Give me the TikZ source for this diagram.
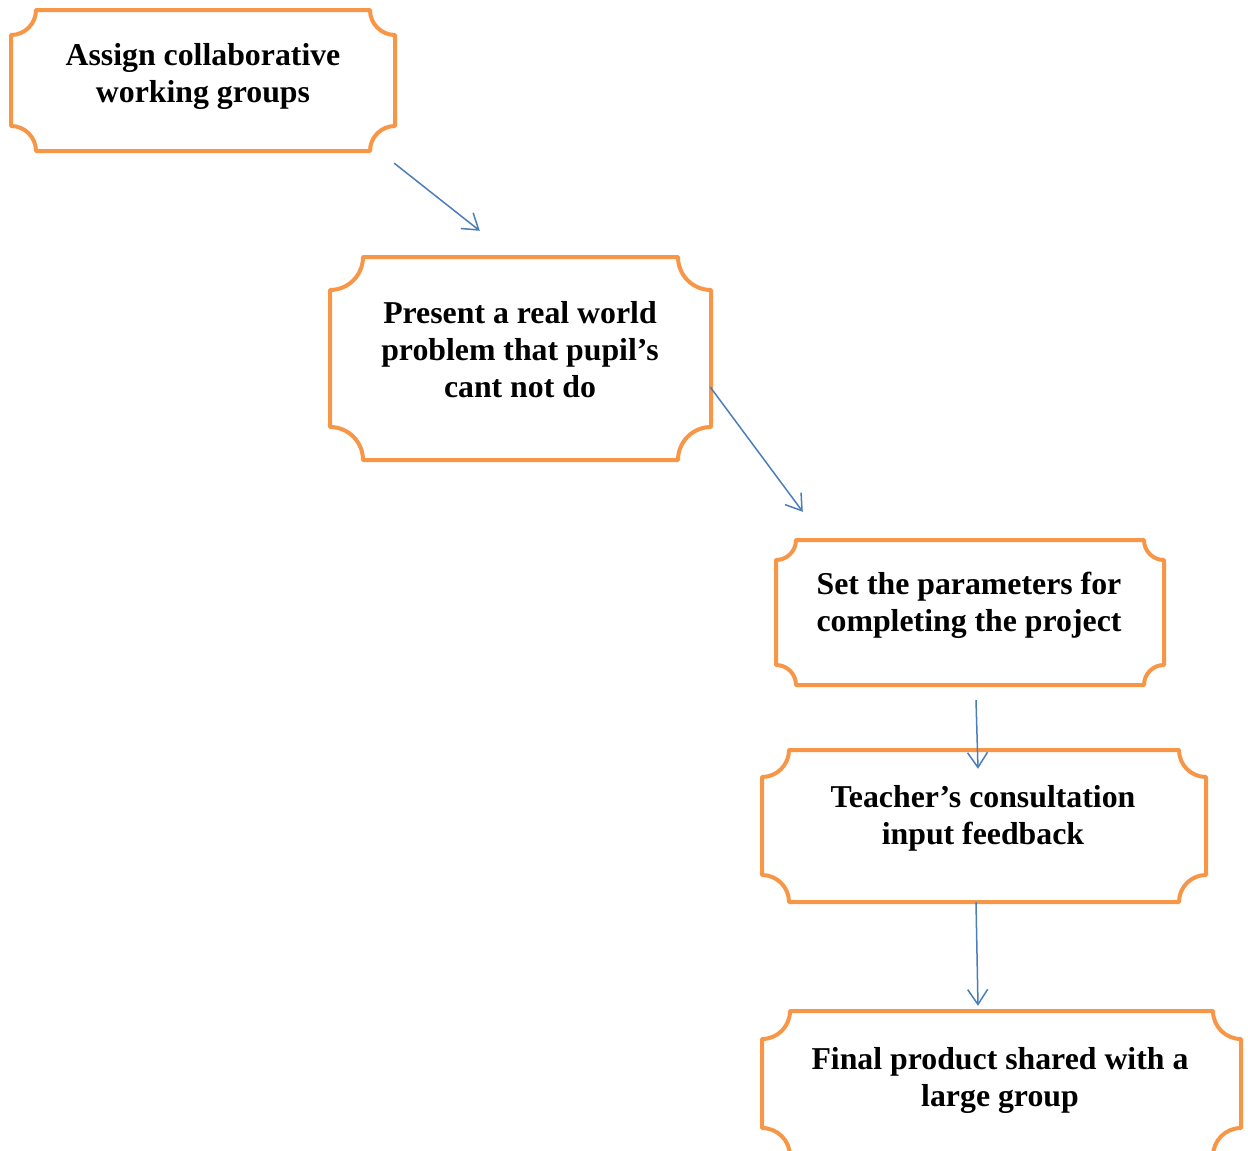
\documentclass[tikz,border=0pt]{standalone}
\usepackage{fontspec}
\setmainfont{Liberation Serif}
\usetikzlibrary{arrows.meta,calc}
\definecolor{plaqueorange}{HTML}{F79646}
\definecolor{linkblue}{HTML}{4A7EBB}
\tikzset{
  plaqueline/.style={draw=plaqueorange,line width=4pt,fill=white,line join=round},
  boxarea/.style={draw=none,inner sep=0pt},
  label/.style={align=center,font=\bfseries\fontsize{31.8}{37}\selectfont,text=black},
  link/.style={draw=linkblue,line width=1.5pt,-{Straight Barb[length=15pt,width=20pt,line width=1.5pt]}}
}
% #1 name, (#2,#3) top-left, (#4,#5) bottom-right, #6 notch radius
\newcommand\plaquebox[6]{%
  \pgfmathsetmacro\pc{0.5523*#6}%
  \path[plaqueline]
    (#2,{#3+#6}) .. controls ({#2+\pc},{#3+#6}) and ({#2+#6},{#3+\pc}) .. ({#2+#6},#3)
    -- ({#4-#6},#3) .. controls ({#4-#6},{#3+\pc}) and ({#4-\pc},{#3+#6}) .. (#4,{#3+#6})
    -- (#4,{#5-#6}) .. controls ({#4-\pc},{#5-#6}) and ({#4-#6},{#5-\pc}) .. ({#4-#6},#5)
    -- ({#2+#6},#5) .. controls ({#2+#6},{#5-\pc}) and ({#2+\pc},{#5-#6}) .. (#2,{#5-#6})
    -- cycle;
  \node[boxarea,minimum width={(#4-#2)*1pt},minimum height={(#5-#3)*1pt}]
    (#1) at ({(#2+#4)/2},{(#3+#5)/2}) {};%
}
\begin{document}
\begin{tikzpicture}[x=1pt,y=-1pt]
\useasboundingbox (0,0) rectangle (1248,1151);
\clip (0,0) rectangle (1248,1151);

\plaquebox{b1}{11}{10}{395}{151}{25}
\plaquebox{b2}{330}{257}{711}{460}{33}
\plaquebox{b3}{776}{540}{1164}{685}{20}
\plaquebox{b4}{762}{750}{1206}{902}{27}
\plaquebox{b5}{762}{1011}{1241}{1156}{28}

\node[label] (t1) at (203,76) {Assign collaborative\\working groups};
\node[label] (t2) at (520,350) {Present a real world\\problem that pupil’s\\cant not do};
\node[label] (t3) at (969,605) {Set the parameters for\\completing the project};
\node[label] (t4) at (983,818) {Teacher’s consultation\\input feedback};
\node[label] (t5) at (1000,1080) {Final product shared with a\\large group};

\draw[link] ($(b1.south east)+(-1,12)$) -- ($(b2.north west)+(150,-26)$);
\draw[link] ($(b2.east)+(-1,28.5)$) -- ($(b3.north west)+(27,-28)$);
\draw[link] ($(b3.south)+(6,15)$) -- ($(b4.north)+(-6,19)$);
\draw[link] ($(b4.south)+(-8,0)$) -- ($(b5.north)+(-23.5,-5)$);
\end{tikzpicture}
\end{document}
